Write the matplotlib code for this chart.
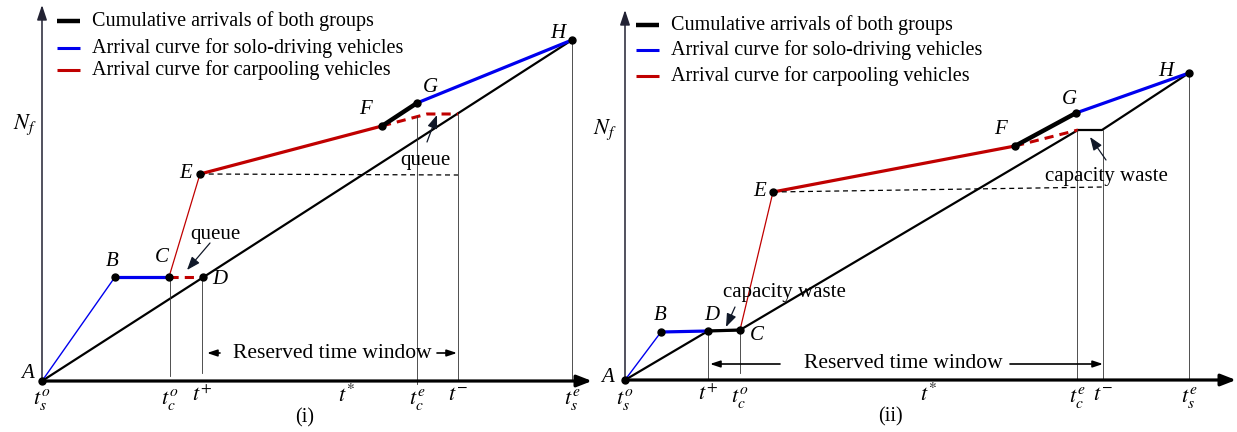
import numpy as np
import matplotlib
matplotlib.use("Agg")
import matplotlib.pyplot as plt

plt.rcParams['font.family'] = ['Liberation Serif', 'DejaVu Serif']
plt.rcParams['mathtext.fontset'] = 'stix'

BLUE = '#0000ee'
RED = '#c00000'

legend_colors = ['black', BLUE, RED]
legend_labels = ['Cumulative arrivals of both groups',
                 'Arrival curve for solo-driving vehicles',
                 'Arrival curve for carpooling vehicles']
legend_widths = [3.2, 2.2, 2.2]

# ---------- panel (i): time (x) and cumulative count (y) of key points ----------
p1 = {'A': (0, 0), 'B': (73, 104), 'C': (127, 104), 'D': (161, 104),
      'E': (158, 207), 'F': (340, 255), 'G': (375, 278), 'H': (530, 341)}
p1_queue_end = [(385, 267), (416, 267)]     # carpool dashed curve after F
p1_ticks = [0, 128, 160, 304, 375, 416, 530]
p1_tick_labels = [r'$t_s^o$', r'$t_c^o$', r'$t^{+}$', r'$t^{*}$', r'$t_c^e$', r'$t^{-}$', r'$t_s^e$']
# ---------- panel (ii) ----------
p2 = {'A': (0, 0), 'B': (36, 48), 'D': (83, 49), 'C': (115, 50),
      'E': (148, 188), 'F': (390, 234), 'G': (451, 267), 'H': (564, 307)}
p2_flat = [(453, 250), (477, 250)]          # flat part of the total curve
p2_ticks = [0, 83, 115, 303, 452, 478, 564]
p2_tick_labels = [r'$t_s^o$', r'$t^{+}$', r'$t_c^o$', r'$t^{*}$', r'$t_c^e$', r'$t^{-}$', r'$t_s^e$']

fig = plt.figure(figsize=(12.37, 4.32), dpi=100)


def make_axes(x0_px, x1_px, ox, oy):
    # axes in which one data unit equals one pixel, origin at (ox, oy) in pixels
    W, H = 1237, 432
    ax = fig.add_axes([x0_px / W, 0, (x1_px - x0_px) / W, 1])
    ax.set_xlim(x0_px - ox, x1_px - ox)
    ax.set_ylim(oy - H, oy)
    ax.set_axis_off()
    return ax


def axes_arrows(ax, xend, ytop):
    ax.annotate('', xy=(xend, 0), xytext=(-1, 0),
                arrowprops=dict(arrowstyle='-|>,head_length=0.9,head_width=0.35', lw=2.3, color='black',
                                shrinkA=0, shrinkB=0))
    ax.annotate('', xy=(0, ytop), xytext=(0, 0),
                arrowprops=dict(arrowstyle='-|>,head_length=0.9,head_width=0.3', lw=1.1, color='#222233',
                                shrinkA=0, shrinkB=0))


def legend(ax, x0, ys):
    for c, lab, lw, y in zip(legend_colors, legend_labels, legend_widths, ys):
        ax.plot([x0, x0 + 23], [y, y], color=c, lw=lw, solid_capstyle='butt')
        ax.text(x0 + 35, y, lab, fontsize=14.5, va='center', ha='left')


def vline(ax, x, y0, y1):
    ax.plot([x, x], [y0, y1], color='#333333', lw=0.6)


def seg(ax, pts, **kw):
    xs, ys = zip(*pts)
    ax.plot(xs, ys, **kw)


def dots(ax, pts):
    xs, ys = zip(*pts)
    ax.plot(xs, ys, 'o', color='black', ms=5, zorder=5)


def arrow_text(ax, txt, txy, tail, head):
    ax.text(txy[0], txy[1], txt, fontsize=15, ha='center', va='center')
    ax.annotate('', xy=head, xytext=tail,
                arrowprops=dict(arrowstyle='-|>,head_length=0.8,head_width=0.3', lw=0.9, color='#101828',
                                shrinkA=0, shrinkB=0))


def window(ax, y, left, text_x, right):
    ax.annotate('', xy=(left[0], y), xytext=(left[1], y),
                arrowprops=dict(arrowstyle='-|>,head_length=0.6,head_width=0.2', lw=1.2, color='black',
                                shrinkA=0, shrinkB=0))
    ax.text(text_x, y, 'Reserved time window', fontsize=15.5, ha='center', va='center')
    ax.annotate('', xy=(right[1], y), xytext=(right[0], y),
                arrowprops=dict(arrowstyle='-|>,head_length=0.6,head_width=0.2', lw=1.2, color='black',
                                shrinkA=0, shrinkB=0))


def point_labels(ax, pos):
    for k, (x, y) in pos.items():
        ax.text(x, y, k, fontsize=15, style='italic', ha='center', va='center')


def tick_texts(ax, ticks, labels, ys):
    for t, lab, y in zip(ticks, labels, ys):
        ax.text(t, y, lab, fontsize=16, ha='center', va='center')


# ================= panel (i) =================
ax1 = make_axes(0, 615, 42, 381)
axes_arrows(ax1, 550, 376)
legend(ax1, 15, [360, 333, 311])

P = p1
seg(ax1, [P['A'], P['H']], color='black', lw=1.6)
seg(ax1, [P['A'], P['B']], color=BLUE, lw=1.0)
seg(ax1, [P['B'], P['C']], color=BLUE, lw=2.3)
seg(ax1, [P['C'], P['D']], color=RED, lw=2.2, ls=(0, (3, 2)))
seg(ax1, [P['C'], P['E']], color=RED, lw=0.9)
seg(ax1, [P['E'], P['F']], color=RED, lw=2.3)
seg(ax1, [P['F']] + p1_queue_end, color=RED, lw=2.2, ls=(0, (3, 2)))
seg(ax1, [P['F'], P['G']], color='black', lw=3.2)
seg(ax1, [P['G'], P['H']], color=BLUE, lw=2.3)
seg(ax1, [P['E'], (p1_ticks[5], P['E'][1] - 1)], color='black', lw=0.9, ls=(0, (4, 3)))

vline(ax1, p1_ticks[1], 5, P['C'][1])
vline(ax1, p1_ticks[2], 8, P['D'][1])
vline(ax1, p1_ticks[4], -3, p1_queue_end[0][1] - 2)
vline(ax1, p1_ticks[5], 0, p1_queue_end[1][1])
vline(ax1, p1_ticks[6], 0, P['H'][1])
dots(ax1, list(P.values()))

point_labels(ax1, {'A': (-14, 8), 'B': (70, 119), 'C': (120, 124), 'D': (178, 101),
                   'E': (144, 207), 'F': (323, 271), 'G': (388, 293), 'H': (516, 348)})
ax1.text(-17, 256, r'$N_f$', fontsize=16, ha='center', va='center')
arrow_text(ax1, 'queue', (173, 146), (168, 138), (145, 111))
arrow_text(ax1, 'queue', (383, 221), (385, 239), (395, 266))
window(ax1, 28, (165, 178), 290, (395, 415))
tick_texts(ax1, p1_ticks, p1_tick_labels, [-18, -18, -15, -15, -18, -15, -18])
ax1.text(263, -37, '(i)', fontsize=14.5, ha='center', va='center')

# ================= panel (ii) =================
ax2 = make_axes(615, 1237, 625, 380)
axes_arrows(ax2, 611, 370)
legend(ax2, 11, [355, 330, 304])

P = p2
seg(ax2, [P['A'], P['D'], P['C']] + p2_flat + [P['H']], color='black', lw=1.6)
seg(ax2, [P['A'], P['B']], color=BLUE, lw=1.0)
seg(ax2, [P['B'], P['D']], color=BLUE, lw=2.3)
seg(ax2, [P['D'], P['C']], color='black', lw=2.3)
seg(ax2, [P['C'], P['E']], color=RED, lw=0.9)
seg(ax2, [P['E'], P['F']], color=RED, lw=2.3)
seg(ax2, [P['F'], p2_flat[0]], color=RED, lw=2.2, ls=(0, (3, 2)))
seg(ax2, [P['F'], P['G']], color='black', lw=3.2)
seg(ax2, [P['G'], P['H']], color=BLUE, lw=2.3)
seg(ax2, [P['E'], (p2_ticks[5], P['E'][1] + 5)], color='black', lw=0.9, ls=(0, (4, 3)))

vline(ax2, p2_ticks[1], 0, P['D'][1])
vline(ax2, p2_ticks[2], 7, P['C'][1])
vline(ax2, p2_ticks[4], 0, p2_flat[0][1])
vline(ax2, p2_ticks[5], 0, p2_flat[1][1])
vline(ax2, p2_ticks[6], 0, P['H'][1])
dots(ax2, list(P.values()))

point_labels(ax2, {'A': (-17, 2), 'B': (35, 65), 'D': (87, 65), 'C': (132, 45),
                   'E': (135, 188), 'F': (375, 251), 'G': (444, 280), 'H': (541, 308)})
ax2.text(-20, 250, r'$N_f$', fontsize=16, ha='center', va='center')
arrow_text(ax2, 'capacity waste', (159, 88), (110, 73), (101, 53))
arrow_text(ax2, 'capacity waste', (481, 203), (481, 220), (465, 243))
window(ax2, 16, (85, 155), 278, (385, 478))
tick_texts(ax2, p2_ticks, p2_tick_labels, [-20, -15, -18, -15, -18, -15, -18])
ax2.text(265, -37, '(ii)', fontsize=14.5, ha='center', va='center')

fig.savefig('out.png', dpi=100)
